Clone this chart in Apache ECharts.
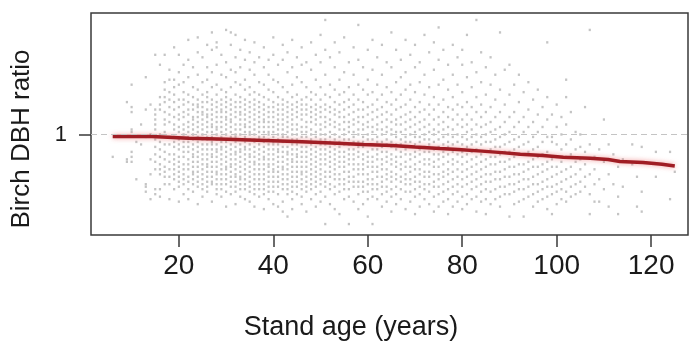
<!DOCTYPE html>
<html>
<head>
<meta charset="utf-8">
<script src="https://cdn.jsdelivr.net/npm/echarts@6/dist/echarts.min.js"></script>
<style>
  html, body { margin: 0; padding: 0; background: #fff; }
  #chart { width: 689px; height: 342px; }
</style>
</head>
<body>
<div id="chart"></div>
<script>
// stand age (years), one entry per column of points
const ages = [6, 9, 10, 11, 12, 13, 14, 15, 16, 17, 18, 19, 20, 21, 22, 23, 24, 25, 26, 27, 28, 29, 30,
  31, 32, 33, 34, 35, 36, 37, 38, 39, 40, 41, 42, 43, 44, 45, 46, 47, 48, 49, 50,
  51, 52, 53, 54, 55, 56, 57, 58, 59, 60, 61, 62, 63, 64, 65, 66, 67, 68, 69, 70,
  71, 72, 73, 74, 75, 76, 77, 78, 79, 80, 81, 82, 83, 84, 85, 86, 87, 88, 89, 90,
  91, 92, 93, 94, 95, 96, 97, 98, 99, 100, 101, 102, 103, 104, 105, 106, 107, 108, 109, 110,
  111, 112, 113, 114, 116, 117, 118, 121, 124, 125];

// birch DBH ratio in percent, one list per age above
const ratioPct = [
  [91],
  [113, 90, 89],
  [120, 111, 109, 102, 101, 93, 91, 89],
  [97, 82],
  [104, 96],
  [123, 110, 99, 80, 79, 77],
  [112, 100, 90, 84, 74],
  [132, 110, 108, 106, 104, 102, 98, 95, 92, 89, 86, 78, 76],
  [128, 115, 112, 110, 100, 97, 94, 91, 88, 86, 84, 78, 75],
  [132, 121, 118, 115, 113, 109, 106, 104, 101, 96, 93, 90, 87, 85, 83, 80],
  [126, 122, 117, 114, 111, 108, 105, 99, 96, 92, 89, 86, 83, 80, 74],
  [135, 122, 119, 116, 113, 110, 107, 104, 102, 99, 97, 95, 92, 90, 88, 86, 84, 82, 78],
  [132, 125, 120, 114, 111, 108, 106, 103, 101, 98, 96, 94, 91, 89, 87, 85, 83, 81, 79, 73],
  [128, 121, 117, 114, 112, 109, 107, 104, 102, 100, 97, 95, 93, 91, 88, 86, 84, 82, 80, 76],
  [138, 130, 123, 116, 113, 110, 108, 105, 103, 101, 99, 97, 95, 93, 90, 88, 86, 83, 81, 78, 74],
  [127, 119, 115, 112, 110, 107, 106, 104, 102, 100, 98, 96, 94, 92, 91, 89, 87, 85, 84, 82, 80, 77],
  [139, 133, 124, 118, 114, 112, 111, 109, 107, 105, 103, 101, 99, 97, 95, 93, 91, 89, 87, 85, 83, 81, 79, 72],
  [131, 121, 116, 113, 111, 109, 108, 106, 104, 102, 100, 98, 96, 94, 92, 90, 88, 86, 84, 82, 80, 78, 75],
  [136, 127, 122, 117, 115, 113, 110, 108, 107, 105, 103, 101, 99, 98, 96, 94, 92, 90, 88, 87, 85, 83, 81, 79, 77],
  [141, 134, 125, 119, 114, 112, 110, 108, 106, 104, 103, 101, 99, 97, 96, 94, 92, 91, 89, 87, 85, 83, 81, 80, 73],
  [137, 135, 128, 120, 116, 113, 111, 109, 107, 105, 103, 102, 100, 98, 96, 94, 93, 91, 89, 87, 85, 84, 82, 80, 78, 76],
  [132, 124, 118, 114, 112, 110, 109, 107, 105, 103, 101, 99, 97, 95, 94, 92, 90, 88, 86, 84, 82, 80, 78, 75],
  [142, 129, 123, 117, 115, 113, 111, 109, 107, 106, 104, 102, 100, 98, 97, 95, 93, 91, 89, 87, 86, 84, 82, 80, 77, 71],
  [141, 136, 126, 119, 114, 112, 110, 108, 106, 105, 103, 101, 99, 98, 96, 94, 92, 90, 88, 87, 85, 83, 81, 79, 76],
  [140, 131, 125, 121, 116, 113, 111, 109, 107, 104, 102, 100, 99, 97, 95, 93, 92, 90, 88, 86, 84, 83, 81, 79, 77, 72],
  [134, 127, 120, 115, 113, 111, 109, 108, 106, 104, 102, 100, 98, 96, 94, 93, 91, 89, 87, 85, 83, 82, 80, 78, 75],
  [138, 130, 122, 118, 114, 112, 110, 108, 106, 104, 103, 101, 99, 97, 95, 94, 92, 90, 88, 86, 84, 82, 80, 78, 74],
  [133, 126, 119, 116, 113, 111, 109, 107, 105, 103, 101, 100, 98, 96, 94, 92, 91, 89, 87, 85, 83, 81, 79, 77, 73],
  [137, 129, 124, 117, 114, 112, 110, 108, 106, 104, 102, 100, 98, 97, 95, 93, 91, 89, 88, 86, 84, 82, 80, 78, 76, 71],
  [131, 121, 116, 113, 111, 109, 107, 105, 103, 101, 99, 98, 96, 94, 92, 90, 88, 86, 84, 82, 80, 78, 75],
  [135, 127, 120, 115, 112, 110, 108, 106, 105, 103, 101, 99, 97, 95, 93, 91, 90, 88, 86, 84, 82, 80, 78, 76, 70],
  [130, 124, 118, 114, 111, 109, 107, 105, 103, 101, 100, 98, 96, 94, 92, 90, 88, 87, 85, 83, 81, 79, 77, 74],
  [139, 132, 122, 117, 113, 111, 109, 107, 105, 103, 101, 99, 97, 96, 94, 92, 90, 88, 86, 85, 83, 81, 79, 77, 72],
  [128, 121, 115, 112, 110, 108, 106, 104, 102, 100, 98, 96, 94, 93, 91, 89, 87, 85, 83, 81, 79, 76, 71],
  [136, 130, 119, 114, 112, 110, 108, 106, 104, 102, 100, 99, 97, 95, 93, 91, 89, 87, 86, 84, 82, 80, 78, 73, 69],
  [133, 125, 117, 113, 111, 109, 107, 105, 103, 101, 99, 97, 95, 93, 92, 90, 88, 86, 84, 82, 80, 78, 76, 67],
  [138, 127, 120, 115, 112, 110, 108, 106, 104, 102, 100, 98, 96, 94, 92, 90, 89, 87, 85, 83, 81, 79, 77, 74, 70],
  [131, 123, 116, 113, 111, 109, 107, 104, 102, 100, 98, 96, 94, 92, 91, 89, 87, 85, 83, 81, 79, 76],
  [135, 128, 121, 114, 112, 110, 108, 106, 103, 101, 99, 97, 95, 93, 91, 89, 87, 85, 84, 82, 80, 78, 75, 72],
  [129, 119, 115, 112, 110, 108, 105, 103, 101, 99, 97, 95, 93, 91, 89, 87, 85, 83, 81, 79, 77, 69],
  [137, 126, 117, 114, 111, 109, 107, 105, 102, 100, 98, 96, 94, 92, 90, 88, 86, 84, 82, 80, 78, 74],
  [132, 122, 116, 112, 110, 108, 106, 104, 101, 99, 97, 95, 93, 91, 89, 87, 85, 83, 81, 79, 76, 71],
  [140, 129, 119, 114, 111, 109, 107, 104, 102, 100, 98, 96, 94, 92, 90, 88, 86, 84, 82, 80, 77, 73],
  [146, 134, 124, 116, 112, 110, 107, 105, 103, 100, 98, 96, 94, 92, 90, 88, 85, 83, 81, 79, 75, 64],
  [131, 120, 115, 111, 109, 106, 104, 101, 99, 97, 95, 93, 91, 89, 87, 85, 83, 80, 78, 72],
  [137, 127, 118, 113, 110, 108, 105, 103, 100, 98, 96, 94, 92, 90, 88, 86, 84, 82, 79, 76, 70],
  [133, 122, 116, 112, 109, 107, 104, 102, 99, 97, 95, 93, 91, 89, 87, 84, 82, 80, 77, 68],
  [139, 125, 117, 113, 110, 107, 105, 102, 100, 98, 96, 93, 91, 89, 87, 85, 82, 80, 78, 74],
  [129, 119, 114, 111, 108, 105, 103, 101, 98, 96, 94, 92, 90, 88, 85, 83, 81, 78, 75, 64],
  [135, 124, 116, 112, 109, 106, 104, 101, 99, 97, 94, 92, 90, 88, 86, 83, 81, 79, 73],
  [144, 130, 120, 114, 110, 107, 105, 102, 100, 97, 95, 93, 91, 88, 86, 84, 81, 79, 76, 70],
  [127, 118, 113, 110, 107, 104, 102, 99, 97, 95, 92, 90, 88, 86, 84, 81, 79, 77, 72],
  [134, 122, 116, 111, 108, 105, 103, 100, 98, 96, 93, 91, 89, 87, 84, 82, 80, 77, 74, 67],
  [138, 126, 117, 112, 109, 106, 103, 101, 98, 96, 94, 91, 89, 87, 85, 82, 80, 78, 75, 64],
  [131, 120, 114, 110, 107, 104, 102, 99, 97, 94, 92, 90, 87, 85, 83, 80, 78, 74],
  [136, 124, 116, 111, 108, 105, 102, 100, 97, 95, 93, 90, 88, 86, 83, 81, 79, 76, 71],
  [129, 119, 113, 109, 106, 103, 101, 98, 96, 93, 91, 89, 86, 84, 82, 79, 77, 73],
  [141, 127, 117, 112, 108, 105, 102, 100, 97, 95, 92, 90, 88, 85, 83, 81, 78, 75, 69],
  [134, 121, 114, 110, 106, 104, 101, 99, 96, 94, 91, 89, 87, 84, 82, 79, 76, 72],
  [130, 123, 116, 111, 107, 104, 101, 98, 96, 93, 91, 88, 86, 83, 81, 78, 74],
  [138, 125, 118, 112, 108, 105, 102, 99, 97, 94, 92, 89, 87, 84, 82, 80, 77, 70],
  [132, 120, 114, 109, 106, 103, 100, 97, 95, 92, 90, 87, 85, 82, 80, 77, 73],
  [136, 127, 117, 111, 107, 104, 101, 99, 96, 93, 91, 88, 86, 83, 81, 78, 75, 68],
  [129, 121, 113, 109, 105, 102, 99, 97, 94, 92, 89, 86, 84, 81, 79, 76, 71],
  [140, 124, 116, 110, 106, 103, 100, 98, 95, 93, 90, 88, 85, 83, 80, 78, 74],
  [133, 119, 112, 108, 104, 101, 98, 96, 93, 90, 88, 85, 83, 80, 77, 72],
  [137, 126, 115, 110, 106, 102, 100, 97, 94, 92, 89, 87, 84, 81, 79, 75, 69],
  [143, 130, 120, 112, 107, 104, 101, 98, 95, 92, 90, 87, 84, 82, 79, 76, 71],
  [134, 122, 114, 109, 105, 102, 99, 96, 93, 91, 88, 85, 83, 80, 77, 73],
  [128, 118, 111, 107, 103, 100, 97, 95, 92, 89, 86, 84, 81, 78, 74, 68],
  [136, 124, 115, 110, 106, 102, 99, 96, 93, 90, 88, 85, 82, 79, 76, 71],
  [131, 120, 112, 108, 104, 100, 97, 94, 92, 89, 86, 83, 80, 77, 73],
  [134, 128, 117, 111, 106, 103, 99, 96, 93, 91, 88, 85, 82, 79, 75, 70],
  [140, 123, 113, 108, 104, 101, 98, 95, 92, 89, 86, 83, 80, 76, 72],
  [129, 119, 111, 106, 102, 99, 96, 93, 90, 87, 84, 81, 78, 74],
  [146, 125, 115, 109, 104, 100, 97, 94, 91, 88, 85, 82, 79, 75, 69],
  [133, 121, 112, 107, 103, 99, 96, 92, 89, 86, 83, 80, 77, 73],
  [127, 116, 109, 104, 100, 97, 93, 90, 87, 84, 81, 78, 74, 68],
  [131, 120, 111, 105, 101, 97, 94, 91, 88, 84, 81, 77, 72],
  [124, 114, 107, 102, 98, 95, 91, 88, 85, 82, 78, 74],
  [141, 118, 109, 103, 99, 95, 92, 89, 85, 82, 79, 75, 71],
  [126, 112, 105, 100, 96, 93, 89, 86, 83, 79, 76],
  [128, 116, 107, 101, 97, 93, 90, 87, 83, 80, 76, 67],
  [120, 109, 103, 98, 94, 91, 87, 84, 80, 77, 72],
  [124, 113, 105, 99, 95, 92, 88, 84, 81, 78, 73],
  [117, 107, 101, 96, 92, 88, 85, 82, 78, 74, 67],
  [121, 110, 103, 97, 93, 89, 86, 82, 79, 75],
  [114, 105, 99, 94, 90, 87, 83, 80, 76, 71],
  [118, 108, 101, 95, 91, 87, 84, 80, 77, 73],
  [111, 103, 97, 92, 88, 85, 81, 78, 74],
  [137, 115, 106, 99, 93, 89, 86, 82, 79, 75, 70],
  [108, 99, 97, 90, 87, 83, 79, 76, 68],
  [112, 103, 96, 91, 87, 84, 80, 77, 72],
  [107, 100, 94, 89, 85, 81, 78, 74],
  [122, 115, 104, 96, 91, 86, 82, 77, 73],
  [109, 98, 92, 87, 83, 79, 75],
  [101, 94, 89, 84, 80, 76],
  [100, 95, 90, 86, 81, 77],
  [111, 93, 88, 83, 79],
  [142, 96, 84, 76, 68],
  [91, 86, 80, 73],
  [94, 82, 73],
  [106, 89, 78],
  [96, 84, 71],
  [92, 80],
  [87, 75, 68],
  [90, 79],
  [96, 88],
  [83, 71],
  [95, 77, 69],
  [93, 83],
  [93, 74],
  [85]
];

// fitted ratio, step line
const fitAge = [6.0, 14.3, 22.1, 30.2, 38.2, 46.1, 53.5, 59.0, 65.1, 70.0, 75.3, 79.1, 84.2, 88.4,
  92.3, 97.1, 101.4, 107.1, 110.9, 113.4, 118.3, 122.3, 125.0];
const fitRatio = [0.992, 0.985, 0.981, 0.976, 0.971, 0.965, 0.960, 0.956, 0.950, 0.944, 0.940, 0.933,
  0.927, 0.920, 0.915, 0.908, 0.904, 0.899, 0.891, 0.887, 0.880, 0.873, 0.873];

const xTicks = [20, 40, 60, 80, 100, 120];
const yTicks = [1];

const points = [];
ages.forEach((age, i) => {
  ratioPct[i].forEach((p) => {
    points.push([age, p / 100]);
  });
});
const fit = fitAge.map((a, i) => [a, fitRatio[i]]);

const chart = echarts.init(document.getElementById('chart'));
const font = 'Liberation Sans, Arial, sans-serif';

chart.setOption({
  animation: false,
  grid: {
    left: 91,
    right: 1,
    top: 13,
    bottom: 107,
    show: true,
    borderColor: '#3a3a3a',
    borderWidth: 1.5,
    backgroundColor: 'transparent'
  },
  xAxis: {
    type: 'value',
    min: 1.4,
    max: 127.8,
    axisLine: { show: false },
    splitLine: { show: false },
    axisTick: {
      customValues: xTicks,
      length: 12,
      lineStyle: { color: '#3a3a3a', width: 1.5 }
    },
    axisLabel: {
      customValues: xTicks,
      color: '#1a1a1a',
      fontFamily: font,
      fontSize: 28,
      margin: 17
    }
  },
  yAxis: {
    type: 'value',
    min: 0.596,
    max: 1.488,
    axisLine: { show: false },
    splitLine: { show: false },
    axisTick: {
      customValues: yTicks,
      length: 12,
      lineStyle: { color: '#3a3a3a', width: 1.5 }
    },
    axisLabel: {
      customValues: yTicks,
      color: '#1a1a1a',
      fontFamily: font,
      fontSize: 22,
      margin: 24
    }
  },
  graphic: [
    {
      type: 'text',
      x: 351,
      y: 328,
      style: {
        text: 'Stand age (years)', fontFamily: font, fontSize: 27, fill: '#1a1a1a',
        textAlign: 'center', textVerticalAlign: 'middle'
      }
    },
    {
      type: 'text',
      x: 22,
      y: 139,
      rotation: Math.PI / 2,
      style: {
        text: 'Birch DBH ratio', fontFamily: font, fontSize: 26, fill: '#1a1a1a',
        textAlign: 'center', textVerticalAlign: 'middle'
      }
    }
  ],
  series: [
    {
      type: 'scatter',
      data: points,
      symbol: 'rect',
      symbolSize: [2.2, 2.4],
      itemStyle: { color: '#b5b5b5' },
      silent: true,
      markLine: {
        silent: true,
        symbol: 'none',
        label: { show: false },
        lineStyle: { color: '#c4c4c4', type: [6, 4], width: 1.2 },
        data: [{ yAxis: 1 }]
      }
    },
    {
      type: 'line',
      data: fit,
      step: 'end',
      showSymbol: false,
      lineStyle: {
        color: '#a01d24',
        width: 3.5,
        shadowColor: 'rgba(235, 90, 90, 0.6)',
        shadowBlur: 5
      }
    }
  ]
});
</script>
</body>
</html>
